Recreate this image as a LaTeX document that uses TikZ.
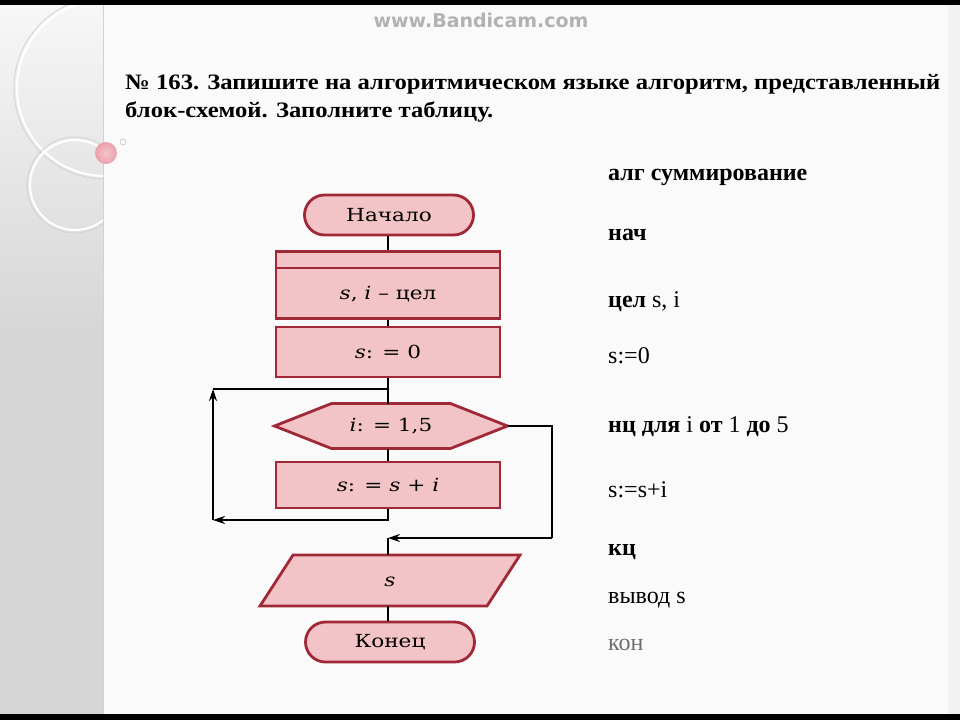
\documentclass[tikz,border=0pt]{standalone}
\usepackage{fontspec}
\setmainfont{Liberation Serif}
\newfontfamily\boxfont[FakeStretch=1.2]{DejaVu Serif}
\newfontfamily\titlefont[FakeStretch=1.12]{Liberation Serif}
\newfontfamily\wmfont{DejaVu Sans}
\usetikzlibrary{arrows.meta}
\definecolor{blockfill}{RGB}{243,196,199}
\definecolor{blockline}{RGB}{160,40,55}
\definecolor{panelgray}{RGB}{214,214,214}
\definecolor{pagebg}{RGB}{250,250,250}
\definecolor{kongray}{RGB}{110,110,110}
\definecolor{ballpink}{RGB}{236,160,172}
\tikzset{
  block/.style={draw=blockline, fill=blockfill, line width=2.8pt, minimum width=224pt, inner sep=0pt,
    font=\boxfont\fontsize{18}{20}\selectfont},
  term/.style={block, rounded corners=20pt, minimum width=169pt, minimum height=40pt},
  shapebase/.style={inner sep=0pt, outer sep=0pt},
  shapetext/.style={inner sep=0pt, font=\boxfont\fontsize{18}{20}\selectfont},
  polyshape/.style={draw=blockline, fill=blockfill, line width=2.8pt, line join=miter},
  conn/.style={line width=1.7pt, black},
  arr/.style={conn, -{Stealth[length=12pt,width=8pt]}},
  code/.style={anchor=base west, inner sep=0pt, font=\fontsize{24}{26}\selectfont},
  titletext/.style={anchor=base west, inner sep=0pt, font=\titlefont\bfseries\fontsize{22}{24}\selectfont},
}
\begin{document}
\begin{tikzpicture}[x=1pt,y=-1pt]
\useasboundingbox (0,0) rectangle (960,720);
% page
\fill[pagebg] (0,0) rectangle (960,720);
\fill[black] (0,0) rectangle (960,5);
\fill[black] (0,714) rectangle (960,720);
\fill[gray!10] (948,5) rectangle (960,714);
% left panel
\fill[panelgray] (0,5) rectangle (103,714);
\shade[top color=white!80!panelgray, bottom color=panelgray] (0,5) rectangle (103,330);
\draw[gray!35, line width=0.8pt] (103,5) -- (103,714);
\begin{scope}
  \clip (0,5) rectangle (103,330);
  \draw[white, line width=2pt] (105,88) circle[radius=88];
  \draw[gray!35, line width=0.8pt] (105,88) circle[radius=91];
  \draw[white, line width=2pt] (75,185) circle[radius=45];
  \draw[gray!35, line width=0.8pt] (75,185) circle[radius=48];
\end{scope}
\shade[inner color=ballpink!60!white, outer color=ballpink] (106,153) circle[radius=11];
\draw[gray!50, line width=0.6pt] (123,142) circle[radius=3];
% watermark
\node[font=\wmfont\bfseries\fontsize{19}{20}\selectfont, text=gray!60, inner sep=0] (wm) at (481,20) {www.Bandicam.com};
% title
\node[titletext] (t1) at (125,89) {№ 163. Запишите на алгоритмическом языке алгоритм, представленный};
\node[titletext] (t2) at (125,117) {блок-схемой. Заполните таблицу.};
% flowchart
\node[term] (start) at (389,215) {Начало};
\node[block, minimum height=67pt] (decl) at (388,285) {};
\draw[blockline, line width=1.5pt] ([yshift=-18pt]decl.north west) -- ([yshift=-18pt]decl.north east);
\node[shapetext] (decltext) at (388,294) {\textit{s}, \textit{i} – цел};
\node[block, minimum height=50pt] (init) at (388,352) {\textit{s}: = 0};
\node[shapebase, minimum width=233pt, minimum height=45pt] (loop) at (391,426) {};
\draw[polyshape] (loop.west) -- ([xshift=57pt]loop.north west) -- ([xshift=-57pt]loop.north east)
  -- (loop.east) -- ([xshift=-57pt]loop.south east) -- ([xshift=57pt]loop.south west) -- cycle;
\node[shapetext] (looptext) at (391,426) {\textit{i}: = 1,5};
\node[block, minimum height=46pt] (body) at (388,485) {\textit{s}: = \textit{s} + \textit{i}};
\node[shapebase, minimum width=260pt, minimum height=51pt] (out) at (390,580.5) {};
\draw[polyshape] (out.south west) -- ([xshift=-33pt]out.south east) -- (out.north east)
  -- ([xshift=33pt]out.north west) -- cycle;
\node[shapetext] (outtext) at (390,582) {\textit{s}};
\node[term] (stop) at (390,642) {Конец};
% connectors
\coordinate (jl) at (213,389);
\coordinate (jb) at (213,520);
\coordinate (jr) at (552,538);
\draw[conn] (start.south -| decl.north) -- (decl.north);
\draw[conn] (decl.south) -- (init.north);
\draw[conn] (init.south) -- (init.south |- loop.north);
\draw[conn] (init.south |- loop.south) -- (body.north);
\draw[arr] (body.south) |- (jb);
\draw[arr] (jb) -- (jl);
\draw[conn] (jl) -- (init.south |- jl);
\draw[conn] (loop.east) -| (jr);
\draw[arr] (jr) -- (body.south |- jr);
\draw[conn] (body.south |- jr) -- (body.south |- out.north);
\draw[conn] (body.south |- out.south) -- (body.south |- stop.north);
% program text
\node[code] (c1) at (608,180) {\textbf{алг суммирование}};
\node[code] (c2) at (608,240) {\textbf{нач}};
\node[code] (c3) at (608,307) {\textbf{цел} s, i};
\node[code] (c4) at (608,363) {s:=0};
\node[code] (c5) at (608,432) {\textbf{нц для} i \textbf{от} 1 \textbf{до} 5};
\node[code] (c6) at (608,497) {s:=s+i};
\node[code] (c7) at (608,555) {\textbf{кц}};
\node[code] (c8) at (608,603) {вывод s};
\node[code, text=kongray] (c9) at (608,650) {кон};
\end{tikzpicture}
\end{document}
